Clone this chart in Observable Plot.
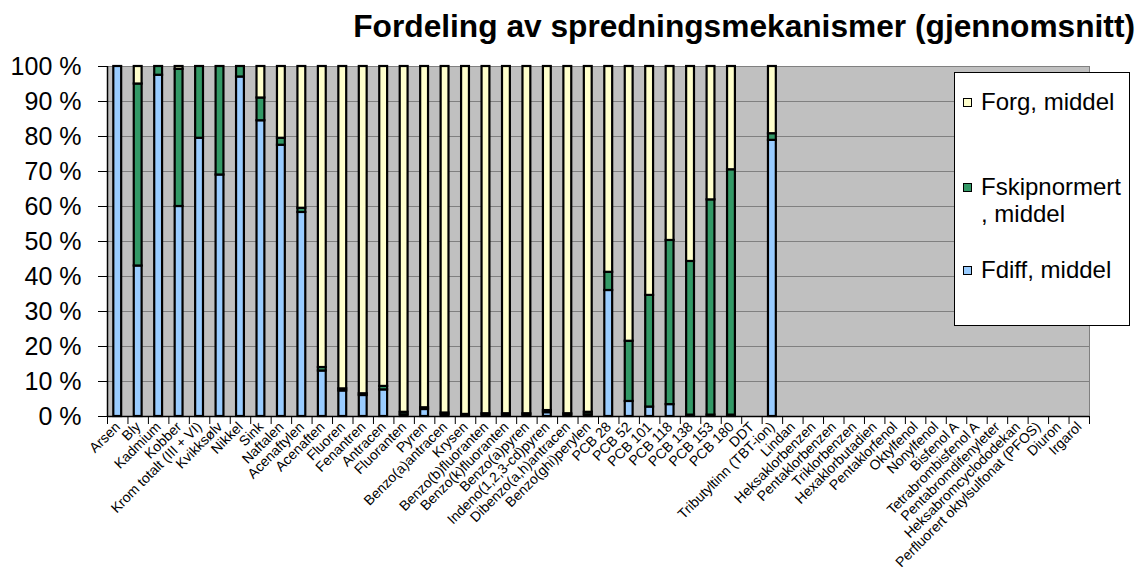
<!DOCTYPE html>
<html>
<head>
<meta charset="utf-8">
<script src="https://cdn.jsdelivr.net/npm/d3@7"></script>
<script src="https://cdn.jsdelivr.net/npm/@observablehq/plot@0.6"></script>
<style>
  html, body { margin: 0; padding: 0; background: #fff; }
  body { width: 1138px; height: 567px; position: relative; overflow: hidden; font-family: "Liberation Sans", Arial, sans-serif; }
  #title { position: absolute; right: 3px; top: 10px; font-size: 31.7px; line-height: 32px; font-weight: bold; color: #000; white-space: nowrap; }
  #chart { position: absolute; left: 0; top: 0; }
  #legend { position: absolute; left: 954px; top: 72px; width: 174px; height: 252px; background: #fff; border: 1px solid #000; }
  .item { position: absolute; left: 26px; font-size: 24px; line-height: 27px; color: #000; white-space: nowrap; }
  .sw { position: absolute; left: -18px; top: 10px; width: 7px; height: 7px; border: 1.5px solid #000; }
</style>
</head>
<body>
<div id="chart"></div>
<div id="title">Fordeling av spredningsmekanismer (gjennomsnitt)</div>
<div id="legend"></div>
<script>
const categories = [
  "Arsen", "Bly", "Kadmium", "Kobber", "Krom totalt (III + VI)", "Kvikksølv", "Nikkel", "Sink",
  "Naftalen", "Acenaftylen", "Acenaften", "Fluoren", "Fenantren", "Antracen", "Fluoranten", "Pyren",
  "Benzo(a)antracen", "Krysen", "Benzo(b)fluoranten", "Benzo(k)fluoranten", "Benzo(a)pyren",
  "Indeno(1,2,3-cd)pyren", "Dibenzo(a,h)antracen", "Benzo(ghi)perylen",
  "PCB 28", "PCB 52", "PCB 101", "PCB 118", "PCB 138", "PCB 153", "PCB 180", "DDT",
  "Tributyltinn (TBT-ion)", "Lindan", "Heksaklorbenzen", "Pentaklorbenzen", "Triklorbenzen",
  "Hexaklorbutadien", "Pentaklorfenol", "Oktylfenol", "Nonylfenol", "Bisfenol A",
  "Tetrabrombisfenol A", "Pentabromdifenyleter", "Heksabromcyclododekan",
  "Perfluorert oktylsulfonat (PFOS)", "Diuron", "Irgarol"
];

const seriesNames = ["Fdiff, middel", "Fskipnormert, middel", "Forg, middel"];
const seriesColors = ["#99ccff", "#339966", "#ffffcc"];

// percent of total, per category (null = no data)
const fdiff = [100, 43, 97.5, 60, 79.5, 69, 97, 84.5,
  77.5, 58.3, 13, 7.3, 6, 7.6, 0.5, 2,
  0.5, 0.3, 0.4, 0.4, 0.4, 1.1, 0.4, 0.5,
  36, 4.3, 2.7, 3.4, 0.4, 0.4, 0.4, null,
  78.9, null, null, null, null, null, null, null, null, null, null, null, null, null, null, null];
const fskip = [0, 52, 2.5, 39.2, 20.5, 31, 3, 6.5,
  2, 1.2, 1, 0.6, 0.5, 1, 0.7, 0.5,
  0.5, 0.3, 0.4, 0.4, 0.4, 0.6, 0.4, 0.7,
  5.2, 17.2, 31.9, 46.9, 43.9, 61.5, 70.1, null,
  1.9, null, null, null, null, null, null, null, null, null, null, null, null, null, null, null];
const forg = [0, 5, 0, 0.8, 0, 0, 0, 9,
  20.5, 40.5, 86, 92.1, 93.5, 91.4, 98.8, 97.5,
  99, 99.4, 99.2, 99.2, 99.2, 98.3, 99.2, 98.8,
  58.8, 78.5, 65.4, 49.7, 55.7, 38.1, 29.5, null,
  19.2, null, null, null, null, null, null, null, null, null, null, null, null, null, null, null];

const yTicks = [0, 10, 20, 30, 40, 50, 60, 70, 80, 90, 100];

const seriesValues = [fdiff, fskip, forg];
const rows = [];
categories.forEach((c, i) => {
  seriesNames.forEach((s, k) => {
    const v = seriesValues[k][i];
    if (v != null && v > 0) rows.push({category: c, series: s, value: v});
  });
});

const W = 1138, H = 567;
const mL = 107, mR = 49, mT = 66, mB = 151;
const step = (W - mL - mR) / categories.length;

const chart = Plot.plot({
  width: W,
  height: H,
  marginLeft: mL,
  marginRight: mR,
  marginTop: mT,
  marginBottom: mB,
  style: {fontFamily: "'Liberation Sans', Arial, sans-serif", fontSize: "14px", color: "#000", background: "transparent"},
  x: {domain: categories, padding: 0, round: false, label: null},
  y: {domain: [0, 100], label: null},
  color: {domain: seriesNames, range: seriesColors},
  marks: [
    Plot.frame({fill: "#c0c0c0", stroke: "#808080"}),
    Plot.gridY(yTicks, {stroke: "#808080", strokeOpacity: 1, strokeWidth: 1}),
    Plot.barY(rows, Plot.stackY({
      x: "category", y: "value", fill: "series", z: "series",
      order: seriesNames,
      stroke: "#000", strokeWidth: 2.2,
      insetLeft: 6.3, insetRight: 6.3
    })),
    Plot.ruleY([0], {stroke: "#000", strokeWidth: 1.5}),
    Plot.ruleX([categories[0]], {stroke: "#000", strokeWidth: 1.5, dx: -step / 2}),
    Plot.axisY({ticks: yTicks, tickFormat: d => d + " %", tickSize: 9, tickPadding: 17, fontSize: 25, stroke: "#000"}),
    Plot.axisX({tickSize: 8, tickFormat: () => "", dx: -step / 2, stroke: "#000"}),
    Plot.axisX([categories[categories.length - 1]], {tickSize: 8, tickFormat: () => "", dx: step / 2, stroke: "#000"}),
    Plot.axisX({tickSize: 0, tickPadding: 8, tickRotate: -45, fontSize: 14, fill: "#000"})
  ]
});
document.getElementById("chart").appendChild(chart);

// legend (top to bottom, as in the original)
const legend = document.getElementById("legend");
const legendItems = [
  {name: "Forg, middel", html: "Forg, middel", color: seriesColors[2], top: 15},
  {name: "Fskipnormert, middel", html: "Fskipnormert<br>, middel", color: seriesColors[1], top: 100},
  {name: "Fdiff, middel", html: "Fdiff, middel", color: seriesColors[0], top: 183}
];
for (const it of legendItems) {
  const d = document.createElement("div");
  d.className = "item";
  d.style.top = it.top + "px";
  d.innerHTML = `<span class="sw" style="background:${it.color}"></span>` + it.html;
  legend.appendChild(d);
}
</script>
</body>
</html>
